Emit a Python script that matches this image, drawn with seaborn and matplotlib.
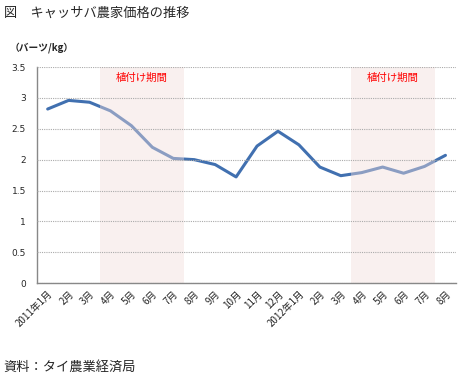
import numpy as np
import pandas as pd
import seaborn as sns
import matplotlib.pyplot as plt

# data
months = ['2011年1月', '2月', '3月', '4月', '5月', '6月', '7月', '8月', '9月', '10月',
          '11月', '12月', '2012年1月', '2月', '3月', '4月', '5月', '6月', '7月', '8月']
price = [2.82, 2.96, 2.93, 2.79, 2.55, 2.20, 2.02, 2.00, 1.92, 1.72,
         2.22, 2.46, 2.24, 1.88, 1.74, 1.79, 1.88, 1.78, 1.89, 2.07]
planting = [(3, 6), (15, 18)]  # index of first and last month of 植付け期間
planting_label = '植付け期間'

sns.set_style('white')
plt.rcParams['font.family'] = ['Noto Sans CJK JP', 'DejaVu Sans']

df = pd.DataFrame({'x': np.arange(len(months)), 'price': price})

fig = plt.figure(figsize=(4.71, 3.81), dpi=100)
ax = fig.add_axes([0.079, 0.257, 0.889, 0.567])

sns.lineplot(data=df, x='x', y='price', ax=ax, color='#4170b0', linewidth=2.2, zorder=1.5)

#Planting periods
for a, b in planting:
    ax.axvspan(a - 0.5, b + 0.5, ymin=0, ymax=1, color='#f2dcdb', alpha=0.42, lw=0, zorder=2)
    ax.text((a + b) / 2, 3.32, planting_label, color='red', ha='center', va='center', fontsize=7.5)

ax.set_xlim(-0.5, len(months) - 0.5)
ax.set_ylim(0, 3.5)
ax.set_yticks(np.arange(0, 3.51, 0.5))
ax.set_yticklabels(['0', '0.5', '1', '1.5', '2', '2.5', '3', '3.5'], fontsize=6.5, family='DejaVu Sans')
ax.set_xticks(np.arange(-0.5, len(months), 1), minor=False)
ax.set_xticklabels([])
ax.set_xticks(np.arange(len(months)), minor=True)
ax.set_xticklabels(months, minor=True, rotation=45, ha='right', rotation_mode='anchor', fontsize=7)
ax.tick_params(axis='x', which='minor', length=0, pad=4)
ax.tick_params(axis='x', which='major', length=4, color='#888888', direction='out')
ax.tick_params(axis='y', length=4, color='#888888', direction='out', pad=4)
ax.set_xlabel('')
ax.set_ylabel('')

ax.set_axisbelow(False)
ax.yaxis.grid(True, linestyle=(0, (1, 1)), color='#aaaaaa', linewidth=0.8)
ax.xaxis.grid(False)
for s in ['top', 'right']:
    ax.spines[s].set_visible(False)
for s in ['left', 'bottom']:
    ax.spines[s].set_color('#888888')
    ax.spines[s].set_linewidth(1)

fig.text(0.008, 0.965, '図　キャッサバ農家価格の推移', fontsize=9.5, va='center')
fig.text(0.02, 0.875, '（バーツ/kg）', fontsize=7, va='center', weight='bold')
fig.text(0.008, 0.035, '資料：タイ農業経済局', fontsize=9.5, va='center')

fig.savefig('out.png', dpi=100)
